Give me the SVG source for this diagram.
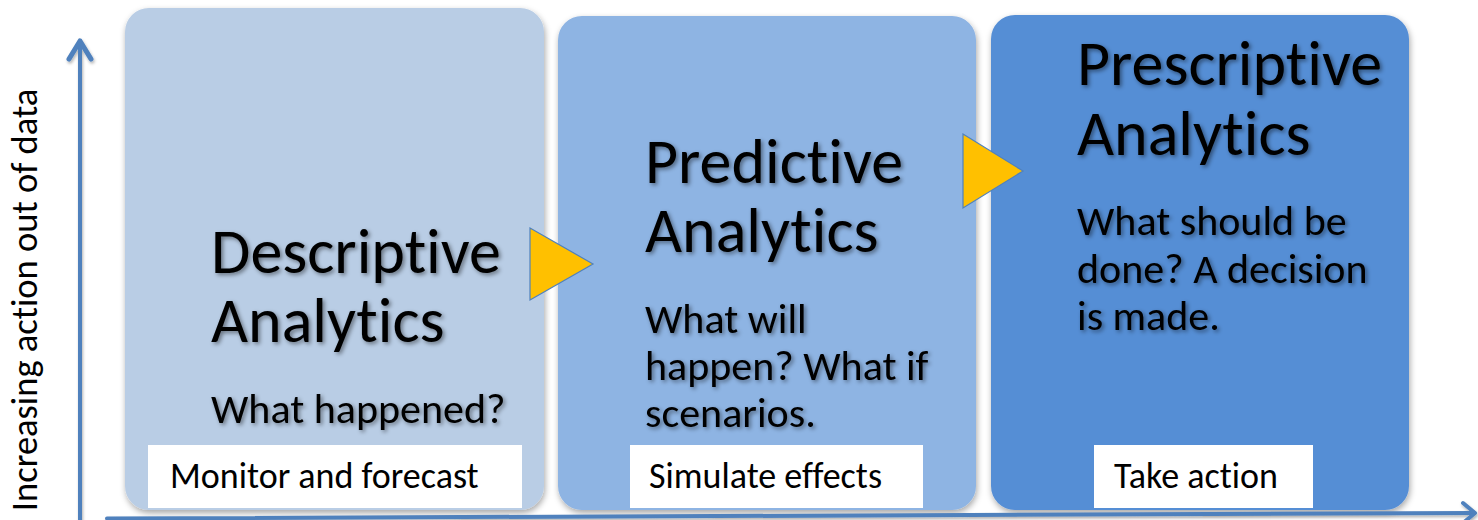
<svg xmlns="http://www.w3.org/2000/svg" width="1478" height="520" viewBox="0 0 1478 520">
  <defs>
    <filter id="boxShadow" x="-5%" y="-5%" width="110%" height="110%">
      <feDropShadow dx="1" dy="3" stdDeviation="3" flood-color="#000" flood-opacity="0.35"/>
    </filter>
    <filter id="textShadow" x="-5%" y="-10%" width="110%" height="130%">
      <feDropShadow dx="2" dy="2" stdDeviation="2" flood-color="#000" flood-opacity="0.45"/>
    </filter>
    <filter id="lineShadow" filterUnits="userSpaceOnUse" x="0" y="0" width="1478" height="520">
      <feDropShadow dx="1" dy="2" stdDeviation="1.5" flood-color="#000" flood-opacity="0.3"/>
    </filter>
  </defs>
  <style>
    text { font-family: Calibri, Carlito, Lato, "Open Sans", sans-serif; fill: #000; font-variant-ligatures: none; }
    .box { filter: url(#boxShadow); }
    .title { font-size: 64px; filter: url(#textShadow); }
    .body { font-size: 42px; filter: url(#textShadow); }
    .tag { fill: #fff; }
    .tagText { font-size: 36px; }
    .axisText { font-size: 36.5px; }
    .axis { stroke: #4F81BD; stroke-width: 4; fill: none; stroke-linecap: round; stroke-linejoin: round; }
    .head { stroke-width: 5; }
    .step { fill: #FFC000; stroke: #4F81BD; stroke-width: 1.2; }
  </style>

  <rect width="1478" height="520" fill="#fff"/>

  <text class="axisText" transform="translate(37,300) rotate(-90)" text-anchor="middle">Increasing action out of data</text>

  <g id="descriptive">
    <rect class="box" x="125" y="8" width="419" height="502" rx="24" fill="#B9CDE5"/>
    <text class="title" x="211" y="273">Descriptive</text>
    <text class="title" x="211" y="342">Analytics</text>
    <text class="body" x="211" y="423">What happened?</text>
    <rect class="tag" x="148" y="445" width="374" height="63"/>
    <text class="tagText" x="170" y="488">Monitor and forecast</text>
  </g>

  <g id="predictive">
    <rect class="box" x="558" y="16" width="418" height="494" rx="24" fill="#8EB4E3"/>
    <text class="title" x="645" y="183">Predictive</text>
    <text class="title" x="645" y="252">Analytics</text>
    <text class="body" x="645" y="333">What will</text>
    <text class="body" x="645" y="380">happen? What if</text>
    <text class="body" x="645" y="427">scenarios.</text>
    <rect class="tag" x="630" y="445" width="293" height="63"/>
    <text class="tagText" x="649" y="488">Simulate effects</text>
  </g>

  <g id="prescriptive">
    <rect class="box" x="991" y="15" width="418" height="495" rx="24" fill="#558ED5"/>
    <text class="title" x="1077" y="85">Prescriptive</text>
    <text class="title" x="1077" y="155">Analytics</text>
    <text class="body" x="1077" y="235">What should be</text>
    <text class="body" x="1077" y="283">done? A decision</text>
    <text class="body" x="1077" y="330">is made.</text>
    <rect class="tag" x="1094" y="445" width="219" height="63"/>
    <text class="tagText" x="1114" y="488">Take action</text>
  </g>

  <!-- axes and step arrows, drawn over the stages -->
  <g id="connectors">
    <g filter="url(#lineShadow)">
      <path class="axis" d="M80,520 L80,42"/>
      <path class="axis head" d="M69,59 L80,41 L91,59"/>
      <path class="axis" d="M107,518.5 L1474,513"/>
      <path class="axis" d="M1463,503 L1475,513 L1463,523"/>
    </g>
    <polygon class="step" points="530,228 593,264 530,300"/>
    <polygon class="step" points="963,134 1023,171 963,208"/>
  </g>
</svg>
